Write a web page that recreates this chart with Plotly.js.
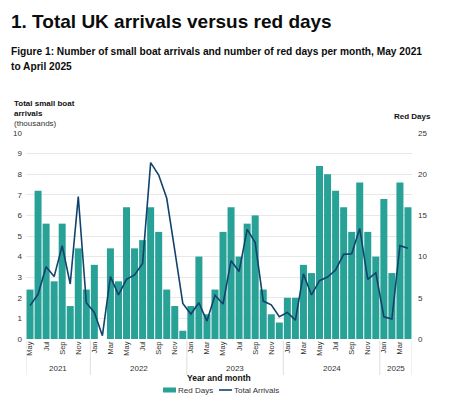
<!DOCTYPE html>
<html>
<head>
<meta charset="utf-8">
<script src="https://cdn.plot.ly/plotly-3.0.1.min.js"></script>
<style>
  html, body { margin: 0; padding: 0; background: #ffffff; }
  #chart { width: 455px; height: 397px; }
</style>
</head>
<body>
<div id="chart"></div>
<script>
// ---- Data ----
const months = ["May","Jun","Jul","Aug","Sep","Oct","Nov","Dec",
  "Jan","Feb","Mar","Apr","May","Jun","Jul","Aug","Sep","Oct","Nov","Dec",
  "Jan","Feb","Mar","Apr","May","Jun","Jul","Aug","Sep","Oct","Nov","Dec",
  "Jan","Feb","Mar","Apr","May","Jun","Jul","Aug","Sep","Oct","Nov","Dec",
  "Jan","Feb","Mar","Apr"];
const years = ["2021","2021","2021","2021","2021","2021","2021","2021",
  "2022","2022","2022","2022","2022","2022","2022","2022","2022","2022","2022","2022",
  "2023","2023","2023","2023","2023","2023","2023","2023","2023","2023","2023","2023",
  "2024","2024","2024","2024","2024","2024","2024","2024","2024","2024","2024","2024",
  "2025","2025","2025","2025"];
const yearLabels = ["2021","2022","2023","2024","2025"];
const redDays = [6,18,14,7,14,4,11,6,9,0,11,7,
  16,11,12,16,13,6,4,1,4,10,3,6,
  13,16,10,14,15,6,3,2,5,5,9,8,
  21,20,18,16,13,19,13,10,17,8,19,16];
const arrivals = [1.62,2.17,3.51,3.03,4.53,2.67,6.91,1.76,1.29,0.16,3.03,2.14,
  2.90,3.11,3.67,8.56,7.96,6.83,4.30,1.73,1.21,1.76,0.87,2.12,
  1.70,3.80,3.28,5.32,4.68,1.84,1.66,1.08,1.29,0.92,3.16,2.14,
  2.83,3.01,3.35,4.11,4.14,5.36,2.90,3.22,1.08,0.97,4.53,4.40];
const leftTicks = [0,1,2,3,4,5,6,7,8,9,10];
const rightTicks = [0,5,10,15,20,25];
const seriesNames = ["Red Days", "Total Arrivals"];

// ---- Build ----
const idx = months.map((m, i) => i);
const tickIdx = idx.filter(i => i % 2 === 0);
const tickTxt = tickIdx.map(i => months[i]);

const FONT = "Liberation Sans, Arial, sans-serif";
const TEAL = "#28a197";
const NAVY = "#12436d";

const W = 455, H = 397;
const M = {l: 26, r: 43, t: 133, b: 58, autoexpand: false};
const PH = H - M.t - M.b;
const PW = W - M.l - M.r;
const py = y => (H - M.b - y) / PH;       // pixel y -> paper
const px = x => (x - M.l) / PW;           // pixel x -> paper

// year groups
const groups = yearLabels.map(yr => {
  const ii = idx.filter(i => years[i] === yr);
  return {yr, first: ii[0], last: ii[ii.length - 1]};
});

const shapes = [];
const bounds = [groups[0].first - 0.5].concat(groups.map(g => g.last + 0.5));
bounds.forEach(b => shapes.push({
  type: "line", xref: "x", yref: "paper", x0: b, x1: b,
  y0: py(341), y1: py(375), line: {color: "#dedede", width: 1}
}));
// legend keys
shapes.push({type: "rect", xref: "paper", yref: "paper", x0: px(163), x1: px(176),
  y0: py(387.5), y1: py(392.5), fillcolor: TEAL, line: {width: 0}});
shapes.push({type: "line", xref: "paper", yref: "paper", x0: px(219), x1: px(232),
  y0: py(390), y1: py(390), line: {color: NAVY, width: 1.6}});

const annotations = [
  {text: "<b>1. Total UK arrivals versus red days</b>", xref: "paper", yref: "paper",
   x: px(9), y: py(21), xanchor: "left", yanchor: "middle", showarrow: false,
   font: {family: FONT, size: 19, color: "#0b0c0c"}},
  {text: "<b>Figure 1: Number of small boat arrivals and number of red days per month, May 2021</b>",
   xref: "paper", yref: "paper", x: px(9), y: py(52), xanchor: "left", yanchor: "middle",
   showarrow: false, font: {family: FONT, size: 10.2, color: "#0b0c0c"}},
  {text: "<b>to April 2025</b>", xref: "paper", yref: "paper", x: px(9), y: py(67),
   xanchor: "left", yanchor: "middle", showarrow: false,
   font: {family: FONT, size: 10.2, color: "#0b0c0c"}},
  {text: "<b>Total small boat</b>", xref: "paper", yref: "paper", x: px(12), y: py(103),
   xanchor: "left", yanchor: "middle", showarrow: false, font: {family: FONT, size: 8, color: "#111"}},
  {text: "<b>arrivals</b>", xref: "paper", yref: "paper", x: px(12), y: py(113),
   xanchor: "left", yanchor: "middle", showarrow: false, font: {family: FONT, size: 8, color: "#111"}},
  {text: "(thousands)", xref: "paper", yref: "paper", x: px(12), y: py(123.5),
   xanchor: "left", yanchor: "middle", showarrow: false, font: {family: FONT, size: 8, color: "#333"}},
  {text: "<b>Red Days</b>", xref: "paper", yref: "paper", x: px(392), y: py(116),
   xanchor: "left", yanchor: "middle", showarrow: false, font: {family: FONT, size: 8, color: "#111"}},
  {text: "<b>Year and month</b>", xref: "paper", yref: "paper", x: px(219), y: py(378),
   xanchor: "center", yanchor: "middle", showarrow: false, font: {family: FONT, size: 8.5, color: "#111"}},
  {text: seriesNames[0], xref: "paper", yref: "paper", x: px(176), y: py(390),
   xanchor: "left", yanchor: "middle", showarrow: false, font: {family: FONT, size: 8, color: "#333"}},
  {text: seriesNames[1], xref: "paper", yref: "paper", x: px(232), y: py(390),
   xanchor: "left", yanchor: "middle", showarrow: false, font: {family: FONT, size: 8, color: "#333"}}
];
groups.forEach(g => annotations.push({
  text: g.yr, xref: "x", yref: "paper", x: (g.first + g.last) / 2, y: py(368),
  xanchor: "center", yanchor: "middle", showarrow: false,
  font: {family: FONT, size: 8, color: "#333"}
}));

const traces = [
  {type: "bar", name: seriesNames[0], x: idx, y: redDays, yaxis: "y",
   marker: {color: TEAL, line: {width: 0}}, hoverinfo: "x+y"},
  {type: "scatter", mode: "lines", name: seriesNames[1], x: idx, y: arrivals, yaxis: "y2",
   line: {color: NAVY, width: 1.6}}
];

const layout = {
  width: W, height: H,
  margin: M,
  paper_bgcolor: "#ffffff", plot_bgcolor: "#ffffff",
  font: {family: FONT, size: 8, color: "#333"},
  showlegend: false,
  bargap: 0.13,
  xaxis: {range: [-0.5, 47.5], tickmode: "array", tickvals: tickIdx, ticktext: tickTxt,
          tickangle: -90, ticks: "", showgrid: false, zeroline: false, showline: false,
          tickfont: {family: FONT, size: 7.5, color: "#333"}, automargin: false, fixedrange: true},
  yaxis: {range: [0, 25], side: "right", tickmode: "array", tickvals: rightTicks,
          showgrid: false, zeroline: false, showline: false, ticks: "",
          tickfont: {family: FONT, size: 8, color: "#333"}, automargin: false, ticklabelstandoff: 5},
  yaxis2: {range: [0, 10], overlaying: "y", side: "left", tickmode: "array", tickvals: leftTicks,
           showgrid: true, gridcolor: "#e8e8e8", gridwidth: 1, zeroline: false, showline: false,
           ticks: "", tickfont: {family: FONT, size: 8, color: "#333"}, automargin: false,
           ticklabelstandoff: 3},
  shapes: shapes,
  annotations: annotations
};

Plotly.newPlot("chart", traces, layout, {displayModeBar: false, staticPlot: true});
</script>
</body>
</html>
